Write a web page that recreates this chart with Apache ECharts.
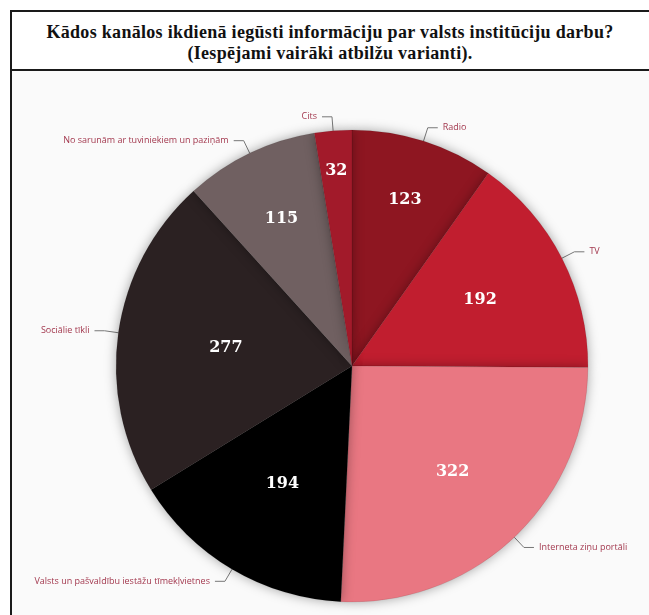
<!DOCTYPE html>
<html>
<head>
<meta charset="utf-8">
<script src="https://cdn.jsdelivr.net/npm/echarts@6/dist/echarts.min.js"></script>
<style>
  html, body { margin: 0; padding: 0; background: #fff; }
  #wrap { position: relative; width: 649px; height: 615px; overflow: hidden; }
  #bg { position: absolute; left: 10px; top: 70px; width: 660px; height: 600px; background: #fafafa; }
  #title { position: absolute; left: 10px; top: 10px; width: 640px; height: 61px;
           border-bottom: 2px solid #1a1a1a; box-sizing: border-box; background: #fff;
           font-family: "Liberation Serif", serif; font-weight: bold; font-size: 18px;
           letter-spacing: 0.3px; line-height: 21px; color: #111; text-align: center; padding-top: 12px; }
  #frame { position: absolute; left: 10px; top: 10px; width: 660px; height: 640px;
           border: 2px solid #1a1a1a; box-sizing: border-box; }
  #chart { position: absolute; left: 0; top: 0; width: 649px; height: 615px; }
</style>
</head>
<body>
<div id="wrap">
  <div id="bg"></div>
  <div id="title">Kādos kanālos ikdienā iegūsti informāciju par valsts institūciju darbu?<br>(Iespējami vairāki atbilžu varianti).</div>
  <div id="frame"></div>
  <div id="chart"></div>
</div>
<script>
// categories clockwise from 12 o'clock
const categories = ['Radio', 'TV', 'Interneta ziņu portāli', 'Valsts un pašvaldību iestāžu tīmekļvietnes',
  'Sociālie tīkli', 'No sarunām ar tuviniekiem un paziņām', 'Cits']
const values = [123, 192, 322, 194, 277, 115, 32]
const colors = ['#8e1621', '#c11e2f', '#e97782', '#000000', '#2b2122', '#706061', '#a21a2a']
// how far out (share of radius) each value label sits
const labelDepth = [0.74, 0.61, 0.62, 0.58, 0.54, 0.69, 0.83]

const center = [352, 366]
const radius = 236
const total = values.reduce((a, b) => a + b, 0)

const chart = echarts.init(document.getElementById('chart'))

const pieData = categories.map((name, i) => ({
  name: name,
  value: values[i],
  itemStyle: { color: colors[i] }
}))

chart.setOption({
  animation: false,
  series: [
    {
      type: 'pie',
      center: center,
      radius: [0, radius],
      startAngle: 90,
      clockwise: true,
      silent: true,
      data: pieData,
      itemStyle: {
        borderColor: 'rgba(0,0,0,0.15)',
        borderWidth: 0.6,
        shadowBlur: 12,
        shadowColor: 'rgba(0,0,0,0.35)'
      },
      label: {
        show: true,
        position: 'outside',
        formatter: '{b}',
        color: '#a3394f',
        fontFamily: 'Open Sans',
        fontSize: 9
      },
      labelLine: {
        show: true,
        length: 14,
        length2: 10,
        smooth: false,
        lineStyle: { color: '#777', width: 1 }
      }
    },
    {
      type: 'pie',
      center: center,
      radius: [0, radius],
      startAngle: 90,
      clockwise: true,
      silent: true,
      data: pieData.map(d => ({ name: d.name, value: d.value, itemStyle: { color: 'rgba(0,0,0,0)' } })),
      label: {
        show: true,
        position: 'inside',
        formatter: '{c}',
        color: '#fff',
        fontFamily: 'DejaVu Serif',
        fontWeight: 'bold',
        fontSize: 16
      },
      labelLine: { show: false },
      labelLayout: function (p) {
        const i = p.dataIndex
        let before = 0
        for (let k = 0; k < i; k++) before += values[k]
        const mid = (before + values[i] / 2) / total * 2 * Math.PI
        const r = radius * labelDepth[i]
        return {
          x: center[0] + r * Math.sin(mid),
          y: center[1] - r * Math.cos(mid),
          align: 'center',
          verticalAlign: 'middle'
        }
      }
    }
  ]
})
</script>
</body>
</html>
